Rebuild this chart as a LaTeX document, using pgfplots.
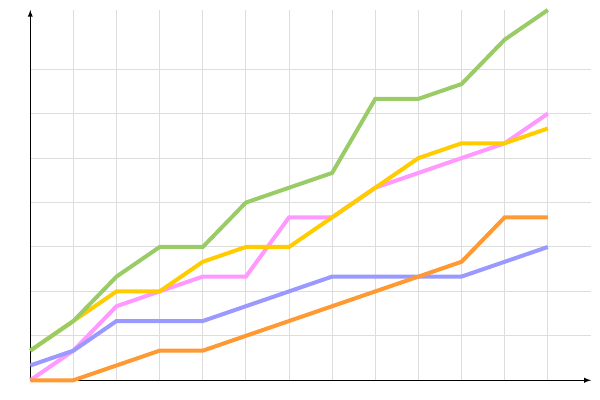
\documentclass[border=0pt]{standalone}
\usepackage{pgfplots}
\pgfplotsset{compat=1.18}
\definecolor{cgreen}{HTML}{99CC66}
\definecolor{cyellow}{HTML}{FFCC00}
\definecolor{cpink}{HTML}{FF99FF}
\definecolor{cblue}{HTML}{9999FF}
\definecolor{corange}{HTML}{FF9933}
\definecolor{cgrid}{HTML}{DDDDDD}
\begin{document}
\begin{tikzpicture}
% picture is 450pt x 300pt, i.e. 600 x 400 px at 0.75pt per px
\useasboundingbox (-22.7pt,-14.8pt) rectangle (427.3pt,285.2pt);
\begin{axis}[
    at={(0,0)}, anchor=origin,
    scale only axis,
    width=420.5pt, height=277.7pt,
    xmin=0, xmax=13, ymin=0, ymax=25,
    axis lines=left,
    axis line style={black, line width=0.75pt, -latex},
    xtick={0,...,12}, ytick={0,3,...,21},
    xticklabels={}, yticklabels={},
    major tick length=0pt,
    grid=major,
    grid style={cgrid, line width=0.75pt},
    clip=false,
    every axis plot/.append style={line width=3pt, line cap=butt, line join=miter, no markers},
    ]
\addplot[cpink] coordinates {(0,0) (1,2) (2,5) (3,6) (4,7) (5,7) (6,11) (7,11) (8,13) (9,14) (10,15) (11,16) (12,18)};
\addplot[cyellow] coordinates {(0,2) (1,4) (2,6) (3,6) (4,8) (5,9) (6,9) (7,11) (8,13) (9,15) (10,16) (11,16) (12,17)};
\addplot[cblue] coordinates {(0,1) (1,2) (2,4) (3,4) (4,4) (5,5) (6,6) (7,7) (8,7) (9,7) (10,7) (11,8) (12,9)};
\addplot[corange] coordinates {(0,0) (1,0) (2,1) (3,2) (4,2) (5,3) (6,4) (7,5) (8,6) (9,7) (10,8) (11,11) (12,11)};
\addplot[cgreen] coordinates {(0,2) (1,4) (2,7) (3,9) (4,9) (5,12) (6,13) (7,14) (8,19) (9,19) (10,20) (11,23) (12,25)};
\end{axis}
\end{tikzpicture}
\end{document}
